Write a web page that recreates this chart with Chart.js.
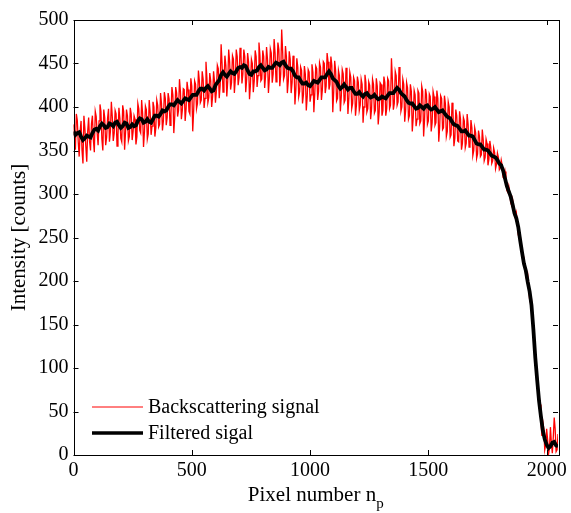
<!DOCTYPE html>
<html>
<head>
<meta charset="utf-8">
<script src="https://cdn.jsdelivr.net/npm/chart.js@4.4.1/dist/chart.umd.min.js"></script>
<style>
  body { margin: 0; background: #fff; }
</style>
</head>
<body>
<canvas id="chart" width="571" height="513"></canvas>
<script>
// samples: raw every 4 pixel numbers, filtered every 8
const rawStep = 4
const filteredStep = 8

const rawSignal = [
  380, 366, 351, 392, 385, 360, 343, 372, 384, 350, 335, 390, 376, 355, 337, 372,
  388, 360, 350, 381, 390, 362, 348, 395, 389, 370, 356, 384, 403, 395, 363, 350,
  397, 388, 356, 365, 387, 398, 360, 372, 406, 389, 361, 370, 396, 392, 355, 368,
  399, 387, 364, 360, 402, 395, 351, 371, 397, 390, 361, 366, 399, 392, 362, 372,
  390, 386, 357, 366, 404, 398, 373, 370, 408, 393, 354, 372, 401, 397, 363, 369,
  408, 394, 368, 378, 406, 400, 366, 376, 408, 402, 377, 380, 416, 404, 373, 384,
  417, 410, 379, 388, 416, 409, 379, 392, 423, 414, 370, 389, 423, 416, 389, 396,
  432, 418, 386, 396, 421, 420, 384, 398, 429, 420, 395, 392, 433, 424, 372, 396,
  430, 426, 398, 404, 442, 430, 405, 408, 441, 432, 399, 410, 452, 433, 405, 411,
  439, 430, 400, 412, 441, 430, 405, 418, 448, 444, 410, 425, 472, 450, 417, 428,
  459, 448, 412, 430, 466, 452, 420, 428, 459, 455, 416, 432, 466, 458, 425, 434,
  468, 460, 427, 438, 466, 458, 417, 432, 462, 452, 409, 426, 455, 450, 417, 430,
  465, 458, 423, 436, 474, 460, 430, 432, 465, 458, 422, 436, 469, 455, 416, 433,
  467, 462, 428, 438, 478, 462, 429, 440, 474, 466, 424, 438, 489, 464, 432, 436,
  470, 458, 416, 430, 464, 455, 416, 428, 459, 452, 403, 420, 456, 446, 412, 418,
  446, 442, 404, 414, 447, 438, 396, 412, 443, 440, 406, 414, 449, 440, 394, 416,
  447, 444, 408, 418, 451, 446, 408, 420, 452, 450, 416, 424, 462, 452, 420, 426,
  458, 448, 394, 418, 453, 442, 407, 410, 442, 436, 395, 412, 443, 438, 405, 408,
  445, 436, 392, 410, 440, 434, 398, 404, 434, 430, 390, 402, 435, 428, 396, 402,
  432, 426, 382, 400, 437, 428, 394, 398, 429, 425, 386, 398, 432, 426, 393, 396,
  433, 424, 380, 394, 428, 426, 390, 396, 435, 428, 390, 398, 433, 430, 398, 402,
  456, 432, 397, 404, 441, 436, 402, 406, 446, 434, 395, 400, 432, 426, 383, 396,
  428, 422, 386, 390, 426, 418, 372, 388, 419, 414, 378, 386, 419, 416, 381, 384,
  424, 418, 366, 386, 421, 414, 380, 384, 415, 412, 372, 382, 418, 412, 379, 382,
  419, 410, 360, 378, 413, 410, 374, 376, 413, 404, 366, 372, 406, 400, 365, 368,
  405, 396, 355, 364, 397, 390, 361, 360, 395, 386, 351, 358, 388, 384, 353, 358,
  392, 380, 354, 356, 385, 376, 344, 350, 376, 370, 341, 346, 373, 366, 343, 345,
  374, 362, 338, 342, 363, 358, 333, 340, 361, 353, 335, 338, 353, 348, 329, 334,
  347, 342, 328, 330, 339, 333, 319, 318, 326, 318, 304, 302, 309, 302, 290, 287,
  294, 287, 275, 272, 278, 268, 253, 250, 253, 243, 228, 224, 226, 217, 205, 201,
  207, 195, 179, 175, 178, 160, 136, 124, 118, 102, 81, 72, 70, 58, 37, 22,
  38, 30, 6, 12, 30, 18, 1, 8, 32, 14, 2, 20, 43, 30, 4, 6,
  24
]

const filteredSignal = [
  372, 368, 370, 371, 366, 362, 364, 367, 366, 365, 370, 374, 375, 373, 378, 381,
  379, 376, 377, 381, 380, 378, 382, 383, 379, 376, 378, 382, 381, 376, 377, 380,
  378, 379, 384, 387, 386, 382, 383, 386, 383, 382, 386, 390, 390, 389, 392, 396,
  395, 396, 400, 403, 403, 402, 405, 408, 406, 404, 407, 410, 409, 408, 411, 414,
  414, 414, 418, 421, 421, 419, 422, 424, 421, 418, 419, 425, 428, 431, 437, 440,
  437, 435, 438, 441, 439, 438, 441, 445, 446, 445, 448, 447, 442, 438, 437, 441,
  441, 442, 446, 448, 445, 442, 443, 446, 445, 445, 448, 451, 450, 448, 451, 452,
  448, 445, 444, 444, 441, 436, 434, 434, 430, 427, 427, 428, 425, 424, 427, 430,
  429, 428, 431, 434, 434, 434, 438, 441, 438, 433, 431, 429, 424, 421, 423, 426,
  423, 420, 422, 422, 418, 415, 415, 417, 414, 412, 415, 416, 413, 411, 412, 414,
  411, 409, 410, 412, 411, 410, 413, 416, 416, 416, 419, 422, 420, 416, 414, 412,
  408, 405, 404, 404, 401, 398, 399, 402, 400, 398, 401, 402, 399, 397, 398, 400,
  397, 394, 395, 396, 393, 390, 388, 387, 383, 380, 379, 378, 375, 372, 372, 373,
  370, 367, 367, 366, 362, 358, 357, 357, 354, 351, 351, 350, 347, 344, 343, 342,
  339, 335, 333, 327, 318, 309, 303, 297, 288, 278, 272, 262, 247, 233, 220, 212,
  199, 188, 172, 144, 112, 86, 62, 44, 28, 18, 12, 8, 10, 14, 15, 11,
  10
]

const xTicks = [0, 500, 1000, 1500, 2000]
const yTicks = [0, 50, 100, 150, 200, 250, 300, 350, 400, 450, 500]
const seriesNames = ['Backscattering signal', 'Filtered sigal']
const seriesColors = ['#ff0000', '#000000']

const serif = 'Liberation Serif'

const framePlugin = {
  id: 'frame',
  afterDatasetsDraw(chart) {
    const { ctx, chartArea: a, scales } = chart
    ctx.save()
    ctx.strokeStyle = '#000'
    ctx.lineWidth = 1
    ctx.strokeRect(Math.round(a.left) + 0.5, Math.round(a.top) + 0.5,
      Math.round(a.right - a.left), Math.round(a.bottom - a.top))
    const len = 5
    ctx.beginPath()
    xTicks.forEach((v) => {
      const px = Math.round(scales.x.getPixelForValue(v)) + 0.5
      ctx.moveTo(px, a.bottom)
      ctx.lineTo(px, a.bottom - len)
      ctx.moveTo(px, a.top)
      ctx.lineTo(px, a.top + len)
    })
    yTicks.forEach((v) => {
      const py = Math.round(scales.y.getPixelForValue(v)) + 0.5
      ctx.moveTo(a.left, py)
      ctx.lineTo(a.left + len, py)
      ctx.moveTo(a.right, py)
      ctx.lineTo(a.right - len, py)
    })
    ctx.stroke()

    // legend, lower left inside the axes
    const rows = [407, 433]
    const widths = [1, 3.5]
    ctx.font = '20px ' + serif
    ctx.textBaseline = 'middle'
    ctx.fillStyle = '#000'
    rows.forEach((y, i) => {
      ctx.beginPath()
      ctx.strokeStyle = seriesColors[i]
      ctx.lineWidth = widths[i]
      ctx.moveTo(92, y)
      ctx.lineTo(143, y)
      ctx.stroke()
      ctx.fillText(seriesNames[i], 148, y + 1)
    })

    // x axis title with subscript
    const main = 'Pixel number n'
    ctx.font = '21px ' + serif
    const w1 = ctx.measureText(main).width
    ctx.font = '15px ' + serif
    const w2 = ctx.measureText('p').width
    const cx = (a.left + a.right) / 2
    const start = cx - (w1 + w2) / 2
    ctx.textBaseline = 'alphabetic'
    ctx.font = '21px ' + serif
    ctx.fillText(main, start, 501)
    ctx.font = '15px ' + serif
    ctx.fillText('p', start + w1, 508)
    ctx.restore()
  },
}

new Chart(document.getElementById('chart'), {
  type: 'line',
  data: {
    datasets: [
      {
        label: seriesNames[0],
        data: rawSignal.map((v, i) => ({ x: i * rawStep, y: v })),
        borderColor: seriesColors[0],
        borderWidth: 1.3,
        pointRadius: 0,
        tension: 0,
        order: 2,
      },
      {
        label: seriesNames[1],
        data: filteredSignal.map((v, i) => ({ x: i * filteredStep, y: v })),
        borderColor: seriesColors[1],
        borderWidth: 3.8,
        pointRadius: 0,
        tension: 0,
        order: 1,
      },
    ],
  },
  options: {
    responsive: false,
    animation: false,
    layout: { padding: { top: 20, right: 13, left: 0, bottom: 0 } },
    plugins: {
      legend: { display: false },
      tooltip: { enabled: false },
    },
    scales: {
      x: {
        type: 'linear',
        min: 0,
        max: 2048,
        grid: { display: false, drawTicks: false },
        border: { display: false },
        ticks: {
          color: '#000',
          padding: 4,
          maxRotation: 0,
          font: { family: serif, size: 20 },
          callback: (v) => String(v),
        },
        afterBuildTicks: (s) => { s.ticks = xTicks.map((v) => ({ value: v })) },
        afterFit: (s) => { s.height = 58 },
      },
      y: {
        min: 0,
        max: 500,
        grid: { display: false, drawTicks: false },
        border: { display: false },
        ticks: { color: '#000', padding: 5, font: { family: serif, size: 20 } },
        afterBuildTicks: (s) => { s.ticks = yTicks.map((v) => ({ value: v })) },
        afterFit: (s) => { s.width = 73.5 },
        title: {
          display: true,
          text: 'Intensity [counts]',
          color: '#000',
          padding: { top: 7, bottom: 0 },
          font: { family: serif, size: 21 },
        },
      },
    },
  },
  plugins: [framePlugin],
})
</script>
</body>
</html>
